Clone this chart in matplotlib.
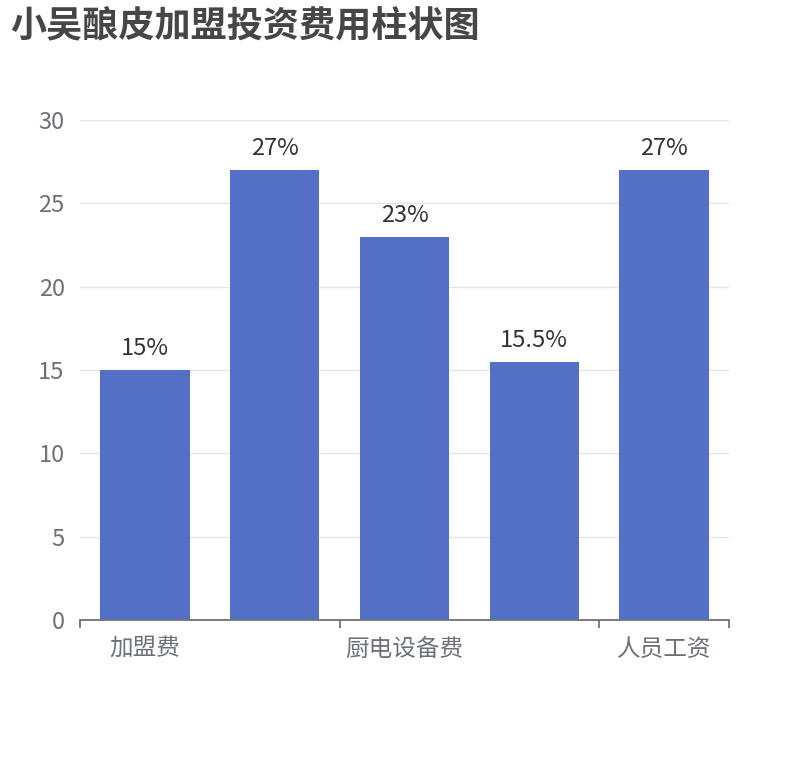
import matplotlib
matplotlib.use("Agg")
import matplotlib.pyplot as plt

plt.rcParams['font.family'] = ['Noto Sans CJK SC', 'DejaVu Sans']

# data
categories = ['加盟费', '店面租金', '厨电设备费', '装修费', '人员工资']
values = [15, 27, 23, 15.5, 27]
bar_labels = ['15%', '27%', '23%', '15.5%', '27%']
y_ticks = [0, 5, 10, 15, 20, 25, 30]

fig = plt.figure(figsize=(8.1, 7.6), dpi=100)
ax = fig.add_axes([80 / 810, 140 / 760, 649 / 810, 500 / 760])

x = list(range(len(categories)))
bars = ax.bar(x, values, width=0.69, color='#5470c6', zorder=3)

for b, lab in zip(bars, bar_labels):
    ax.annotate(lab, (b.get_x() + b.get_width() / 2, b.get_height()),
                xytext=(0, 7), textcoords='offset points',
                ha='center', va='bottom', fontsize=17, color='#333333')

ax.set_xlim(-0.5, len(categories) - 0.5)
ax.set_ylim(0, 30)
ax.set_yticks(y_ticks)
ax.yaxis.grid(True, color='#e0e6f1', linewidth=1, zorder=0)
ax.tick_params(axis='y', length=0, pad=11, labelsize=17, labelcolor='#6e7079')

# show every other category label, ticks on band boundaries
ax.set_xticks(x[::2])
ax.set_xticklabels(categories[::2])
ax.tick_params(axis='x', length=0, pad=13, labelsize=17, labelcolor='#6e7079')
bounds = [i - 0.5 for i in range(0, len(categories) + 1, 2)] + [len(categories) - 0.5]
ax.set_xticks(sorted(set(bounds)), minor=True)
ax.tick_params(axis='x', which='minor', length=6, width=1.3, color='#6e7079', direction='out')

for s in ['top', 'right', 'left']:
    ax.spines[s].set_visible(False)
ax.spines['bottom'].set_color('#6e7079')
ax.spines['bottom'].set_linewidth(1.3)
ax.spines['bottom'].set_zorder(4)

fig.text(10 / 810, 1 - 26 / 760, '小吴酿皮加盟投资费用柱状图', fontsize=26,
         fontweight='bold', color='#464646', ha='left', va='center')

fig.savefig('out.png', dpi=100)
